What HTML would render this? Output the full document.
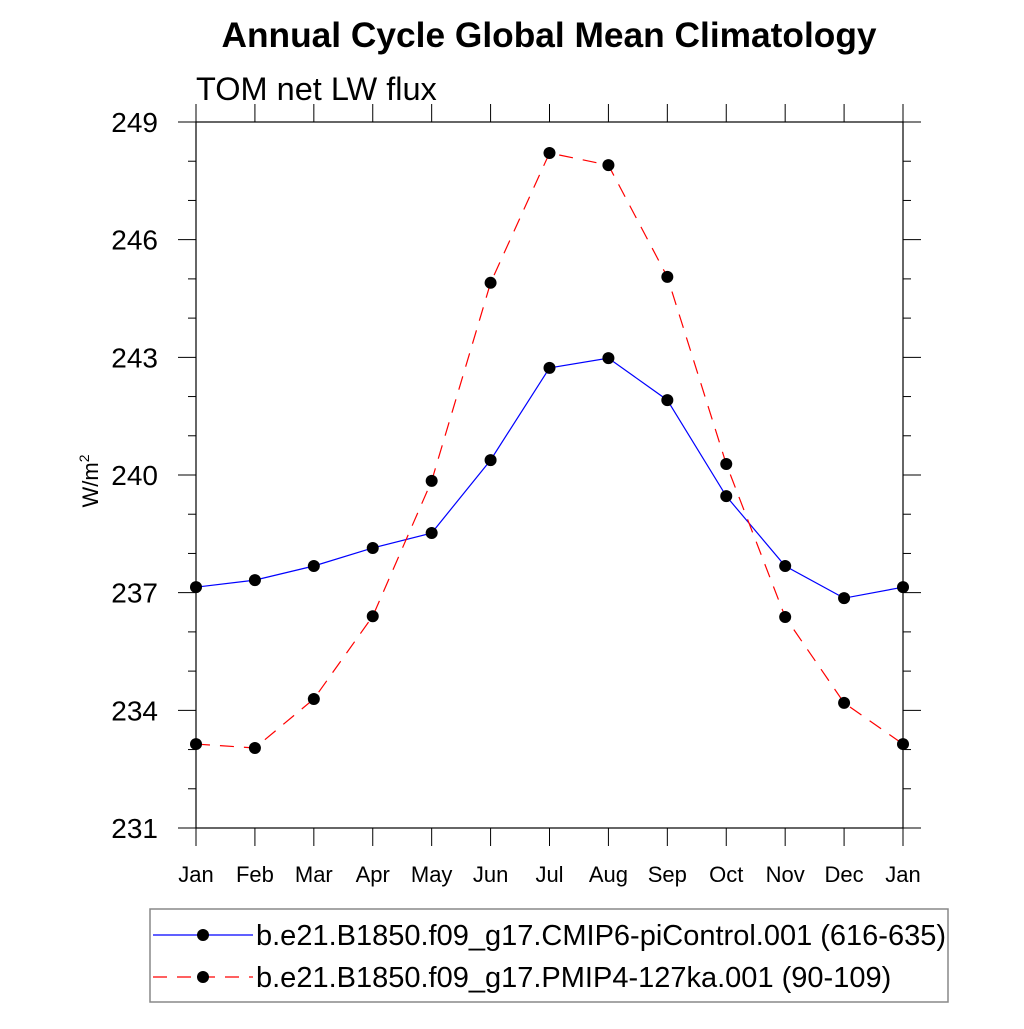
<!DOCTYPE html>
<html><head><meta charset="utf-8"><style>
body{margin:0;background:#fff}
svg text{font-family:"Liberation Sans",Helvetica,sans-serif;fill:#000}
</style></head><body>
<svg width="1024" height="1024" viewBox="0 0 1024 1024">
<text x="549" y="47" font-size="35.3" font-weight="bold" text-anchor="middle">Annual Cycle Global Mean Climatology</text>
<text x="196" y="100" font-size="32.5">TOM net LW flux</text>
<text transform="translate(98,481) rotate(-90)" font-size="22" text-anchor="middle">W/m<tspan dy="-9" font-size="14">2</tspan></text>
<g id="axes"></g>
<g id="series"></g>
<rect x="150" y="909" width="798" height="93" fill="none" stroke="#888" stroke-width="1.5"/>
<g>
<line x1="153" y1="935" x2="253" y2="935" stroke="#0000ff" stroke-width="1.2"/>
<circle cx="203" cy="935" r="6" fill="#000"/>
<text x="256" y="945" font-size="29">b.e21.B1850.f09_g17.CMIP6-piControl.001 (616-635)</text>
</g>
<g>
<line x1="153" y1="977" x2="253" y2="977" stroke="#ff0000" stroke-width="1.2" stroke-dasharray="14,10"/>
<circle cx="203" cy="977" r="6" fill="#000"/>
<text x="256" y="987" font-size="29">b.e21.B1850.f09_g17.PMIP4-127ka.001 (90-109)</text>
</g>
</svg>
<script>
const months=["Jan","Feb","Mar","Apr","May","Jun","Jul","Aug","Sep","Oct","Nov","Dec","Jan"];
const yTicks=[231,234,237,240,243,246,249];
const piControl=[237.14,237.32,237.68,238.14,238.52,240.38,242.73,242.98,241.91,239.46,237.68,236.86,237.14];
const pmip127ka=[233.14,233.04,234.29,236.40,239.85,244.90,248.21,247.90,245.05,240.28,236.38,234.19,233.14];
const X0=196,X1=903,Y0=122,Y1=828,YMIN=231,YMAX=249;
const xs=i=>X0+(X1-X0)*i/(months.length-1);
const ys=v=>Y1-(v-YMIN)/(YMAX-YMIN)*(Y1-Y0);
const NS="http://www.w3.org/2000/svg";
function mk(tag,attrs,parent){const e=document.createElementNS(NS,tag);for(const k in attrs)e.setAttribute(k,attrs[k]);parent.appendChild(e);return e;}
const ax=document.getElementById('axes');
const frame=mk('rect',{x:X0,y:Y0,width:X1-X0,height:Y1-Y0,fill:'none',stroke:'#000','stroke-width':1.2},ax);


for(let v=YMIN;v<=YMAX;v++){
  const y=ys(v),major=(v-YMIN)%3===0,L=major?18:8;
  mk('line',{x1:X0-L,y1:y,x2:X0,y2:y,stroke:'#000','stroke-width':1},ax);
  mk('line',{x1:X1,y1:y,x2:X1+L,y2:y,stroke:'#000','stroke-width':1},ax);
}
yTicks.forEach(v=>{
  const t=mk('text',{x:158,y:ys(v)+10,'font-size':28,'text-anchor':'end'},ax);
  t.textContent=v;
  
  
});
months.forEach((m,i)=>{
  const x=xs(i);
  mk('line',{x1:x,y1:Y1,x2:x,y2:Y1+18,stroke:'#000','stroke-width':1},ax);
  mk('line',{x1:x,y1:Y0-18,x2:x,y2:Y0,stroke:'#000','stroke-width':1},ax);
  const t=mk('text',{x:x,y:882,'font-size':22,'text-anchor':'middle'},ax);
  t.textContent=m;
  
  
});
const sg=document.getElementById('series');
function draw(vals,color,dash,name){
  const g=mk('g',{},sg);
  
  
  const a={points:vals.map((v,i)=>xs(i)+','+ys(v)).join(' '),fill:'none',stroke:color,'stroke-width':1.2};
  if(dash)a['stroke-dasharray']=dash;
  mk('polyline',a,g);
  vals.forEach((v,i)=>{
    const c=mk('circle',{cx:xs(i),cy:ys(v),r:6,fill:'#000'},g);
    
    
  });
}
draw(piControl,'#0000ff',null,'series-picontrol');
draw(pmip127ka,'#ff0000','14,10','series-127ka');
</script>
</body></html>
